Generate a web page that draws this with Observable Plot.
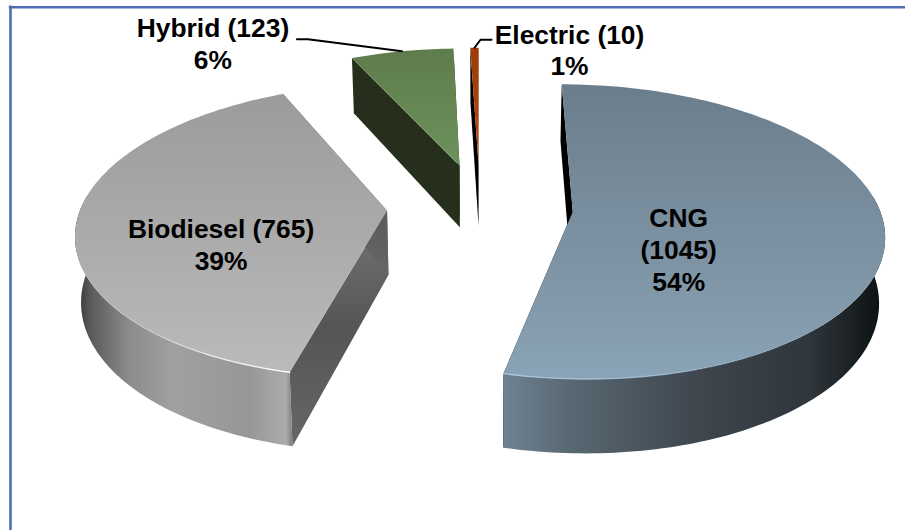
<!DOCTYPE html>
<html>
<head>
<meta charset="utf-8">
<script src="https://cdn.jsdelivr.net/npm/d3@7"></script>
<script src="https://cdn.jsdelivr.net/npm/@observablehq/plot@0.6"></script>
<style>html,body{margin:0;padding:0;background:#fff}svg{display:block}</style>
</head>
<body>
<div id="chart"></div>
<script>
const categories = ["CNG", "Biodiesel", "Hybrid", "Electric"];
const counts = [1045, 765, 123, 10];
const percents = [54, 39, 6, 1];
const labelBreaks = ["CNG\n(1045)\n54%", "Biodiesel (765)\n39%", "Hybrid (123)\n6%", "Electric (10)\n1%"];

// layout of the tilted, exploded pie (a ground plane seen in perspective)
const view = {cx: 479.5, cy: 206, R: 306, tilt: 0.468, persp: 0.135, depth: 64, baseScale: 0.985, explode: 93};
const ids = ["cng", "bio", "hyb", "ele"];
const labelOffset = [[-55, 28], [-11.5, 26], [-189, -8.5], [95, 1.5]];
const labelAtRim = [0.52, 0.5, 1, 1];
const leaderOffset = [null, null, [[-94, -12], [-105, -12]], [[6, -8], [17, -8]]];

function project(u, v, z) {
  const s = 1 / (1 - view.persp * v / view.R);
  const k = z ? view.baseScale : 1;
  return [view.cx + u * s * k, view.cy + view.tilt * v * s + (z ? view.depth * s : 0)];
}

const arcs = d3.pie().sort(null).value(d => d)(counts);

function planePoint(a, r, bis) {
  return [view.explode * Math.sin(bis) + r * Math.sin(a), -view.explode * Math.cos(bis) - r * Math.cos(a)];
}
function arcAngles(a0, a1) {
  const out = [];
  const n = Math.max(2, Math.ceil((a1 - a0) / 0.02));
  for (let i = 0; i <= n; i++) out.push(a0 + (a1 - a0) * i / n);
  return out;
}
const toRow = ([x, y]) => ({x, y});

const marks = [];
// the picture keeps only the top and left sides of its border
marks.push(Plot.ruleY([6.7], {x1: 8.8, x2: 905, stroke: "#4f6db3", strokeWidth: 2.6}));
marks.push(Plot.ruleX([10], {y1: 5.5, y2: 530, stroke: "#4f6db3", strokeWidth: 2.6}));

// colour ramps
const ramps = {
  topcng: ["y", [[0, "#6b7d8b"], [1, "#8aa3b6"]]],
  topbio: ["y", [[0, "#9b9b9b"], [1, "#bababa"]]],
  tophyb: ["y", [[0, "#5f7c4c"], [1, "#6c925c"]]],
  topele: ["y", [[0, "#a03a06"], [1, "#b04a10"]]],
  wallcng: ["x", [[0, "#6d8291"], [0.2, "#56656f"], [0.5, "#3f474f"], [0.8, "#2f363c"], [0.95, "#14191b"], [1, "#0b0e10"]]],
  wallbio: ["x", [[0, "#2e2e2e"], [0.07, "#5a5a5a"], [0.25, "#8c8c8c"], [0.45, "#a0a0a0"], [0.8, "#979797"], [0.97, "#ababab"], [1, "#7d7d7d"]]],
  sidebio: ["y", [[0, "#767676"], [0.5, "#555555"], [1, "#666666"]]],
  rimbio: ["x", [[0, "#ffffff", 0], [0.35, "#ffffff", 0.2], [0.7, "#f4f4f4", 0.85], [1, "#ffffff", 1]]],
  rimcng: ["x", [[0, "#a8c8e0", 1], [0.45, "#9dbcd4", 0.8], [0.75, "#9dbcd4", 0]]]
};
const walls = {cng: "#000000", bio: "url(#sidebio)", hyb: "#262f1b", ele: "#000000"};
const outer = {cng: "url(#wallcng)", bio: "url(#wallbio)", hyb: "#262f1b", ele: "#000000"};

marks.push(() => {
  const defs = d3.create("svg:defs");
  for (const [id, [axis, stops]] of Object.entries(ramps)) {
    const g = defs.append("linearGradient").attr("id", id)
      .attr("x1", 0).attr("y1", 0).attr("x2", axis === "x" ? 1 : 0).attr("y2", axis === "y" ? 1 : 0);
    for (const [o, c, a] of stops) {
      g.append("stop").attr("offset", o).attr("stop-color", c).attr("stop-opacity", a ?? 1);
    }
  }
  return defs.node();
});

const textRows = [];
const leaderRows = [];

arcs.forEach((arc, i) => {
  const id = ids[i];
  const a0 = arc.startAngle, a1 = arc.endAngle, bis = (a0 + a1) / 2;
  const P = (a, r, z) => { const [u, v] = planePoint(a, r, bis); return project(u, v, z); };
  const apexTop = P(bis, 0, 0), apexBase = P(bis, 0, 1);
  const angles = arcAngles(a0, a1);

  // radial side walls
  for (const a of [a0, a1]) {
    const quad = [apexTop, P(a, view.R, 0), P(a, view.R, 1), apexBase].map(toRow);
    marks.push(Plot.line(quad, {x: "x", y: "y", fill: walls[id], stroke: "none"}));
  }
  // rim wall: only the part of the arc that faces the viewer
  const front = angles.filter(a => Math.cos(a) < 0.12);
  if (front.length > 1) {
    const poly = [...front.map(a => P(a, view.R, 0)), ...front.slice().reverse().map(a => P(a, view.R, 1))].map(toRow);
    marks.push(Plot.line(poly, {x: "x", y: "y", fill: outer[id], stroke: "none"}));
  }
  // top face
  const face = [apexTop, ...angles.map(a => P(a, view.R, 0))].map(toRow);
  marks.push(Plot.line(face, {x: "x", y: "y", fill: `url(#top${id})`, stroke: "none"}));
  // highlight along the front rim
  if (id === "bio" || id === "cng") {
    const rim = angles.filter(a => Math.cos(a) < -0.2).map(a => P(a, view.R, 0)).map(toRow);
    marks.push(Plot.line(rim, {x: "x", y: "y", stroke: `url(#rim${id})`, strokeWidth: 1.4, fill: "none"}));
  }
  // text and leaders
  const anchor = P(bis, view.R * labelAtRim[i], 0);
  textRows.push({x: anchor[0] + labelOffset[i][0], y: anchor[1] + labelOffset[i][1], text: labelBreaks[i]});
  if (leaderOffset[i]) {
    const rimPt = P(bis, view.R, 0);
    const pts = [rimPt, ...leaderOffset[i].map(([dx, dy]) => [rimPt[0] + dx, rimPt[1] + dy])].map(toRow);
    leaderRows.push(pts);
  }
});

for (const pts of leaderRows) {
  marks.push(Plot.line(pts, {x: "x", y: "y", stroke: "#000", strokeWidth: 2}));
}
marks.push(Plot.text(textRows, {
  x: "x", y: "y", text: "text",
  fontFamily: "Liberation Sans, Arial, sans-serif",
  fontWeight: "bold", fontSize: 26.4, lineHeight: 1.21, fill: "#000", textAnchor: "middle"
}));

const chart = Plot.plot({
  width: 905, height: 530,
  marginLeft: 0, marginRight: 0, marginTop: 0, marginBottom: 0,
  style: {background: "#fff"},
  x: {domain: [0, 905], range: [0, 905], axis: null},
  y: {domain: [0, 530], range: [0, 530], axis: null},
  marks
});
document.getElementById("chart").appendChild(chart);
</script>
</body>
</html>
